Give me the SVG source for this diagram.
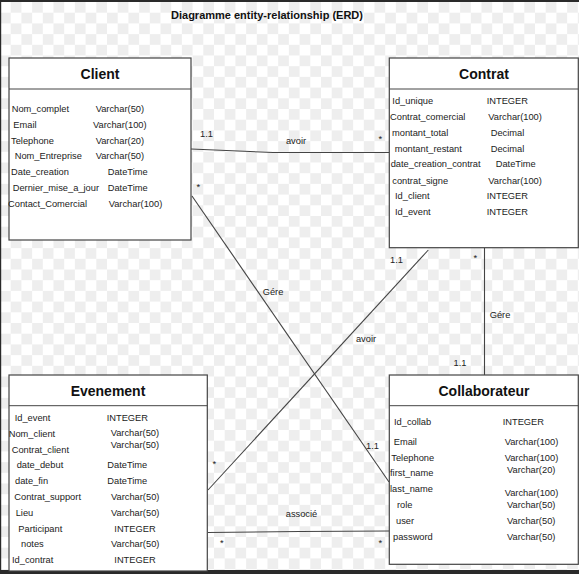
<svg xmlns="http://www.w3.org/2000/svg" width="579" height="574" viewBox="0 0 579 574">
<defs>
<pattern id="chk" x="0" y="2" width="21.4" height="21.4" patternUnits="userSpaceOnUse">
<rect width="21.4" height="21.4" fill="#ffffff"/>
<rect x="10.7" y="0" width="10.7" height="10.7" fill="#eeeeee"/>
<rect x="0" y="10.7" width="10.7" height="10.7" fill="#eeeeee"/>
</pattern>
<style>
.box{fill:#ffffff;stroke:#444;stroke-width:1.2}
.div{stroke:#444;stroke-width:1}
.ttl{font-family:"Liberation Sans",Arial,sans-serif;font-weight:bold;font-size:14px;fill:#111;text-anchor:middle}
.t{font-family:"Liberation Sans",Arial,sans-serif;font-size:9.3px;fill:#222}
.lbl{font-family:"Liberation Sans",Arial,sans-serif;font-size:9.3px;fill:#222}
.con{fill:none;stroke:#444;stroke-width:1.1}
</style>
</defs>
<rect width="579" height="574" fill="url(#chk)"/>
<rect x="0" y="0" width="579" height="2" fill="#2a2a2a"/>
<rect x="0" y="0" width="1.2" height="574" fill="#2a2a2a"/>
<rect x="0" y="570" width="579" height="4" fill="#2a2a2a"/>
<text x="267" y="19" font-family="'Liberation Sans',Arial,sans-serif" font-size="11px" font-weight="bold" fill="#111" text-anchor="middle">Diagramme entity-relationship (ERD)</text>

<g id="connectors">
<polyline class="con" points="191,149 273,152.5 389,152.5"/>
<line class="con" x1="192" y1="196" x2="389" y2="482"/>
<line class="con" x1="428.3" y1="250" x2="208" y2="490"/>
<line class="con" x1="484.5" y1="248" x2="484.5" y2="375"/>
<polyline class="con" points="208,532.5 300,531.5 389,531"/>
<text class="lbl" x="200" y="136.5">1.1</text>
<text class="lbl" x="296" y="144" text-anchor="middle">avoir</text>
<text class="lbl" x="378.5" y="142">*</text>
<text class="lbl" x="196.5" y="190">*</text>
<text class="lbl" x="273" y="294.5" text-anchor="middle">Gére</text>
<text class="lbl" x="372.5" y="448.5" text-anchor="middle">1.1</text>
<text class="lbl" x="366" y="342" text-anchor="middle">avoir</text>
<text class="lbl" x="396.5" y="262.5" text-anchor="middle">1.1</text>
<text class="lbl" x="212.5" y="467">*</text>
<text class="lbl" x="500" y="317.5" text-anchor="middle">Gére</text>
<text class="lbl" x="473.5" y="261">*</text>
<text class="lbl" x="460" y="365.5" text-anchor="middle">1.1</text>
<text class="lbl" x="301.5" y="516.5" text-anchor="middle">associé</text>
<text class="lbl" x="220" y="546">*</text>
<text class="lbl" x="378.5" y="546">*</text>
</g>

<g id="client">
<rect class="box" x="9" y="58" width="182" height="182"/>
<line class="div" x1="9" y1="89" x2="191" y2="89"/>
<text class="ttl" x="100" y="79">Client</text>
<text class="t" x="11.7" y="111.6">Nom_complet</text><text class="t" x="95.7" y="111.6">Varchar(50)</text>
<text class="t" x="13.3" y="128.3">Email</text><text class="t" x="93" y="128.3">Varchar(100)</text>
<text class="t" x="11" y="143.6">Telephone</text><text class="t" x="95.7" y="143.6">Varchar(20)</text>
<text class="t" x="14.7" y="159.3">Nom_Entreprise</text><text class="t" x="95.7" y="159.3">Varchar(50)</text>
<text class="t" x="11" y="175.3">Date_creation</text><text class="t" x="107.7" y="175.3">DateTime</text>
<text class="t" x="12.7" y="191.3">Dernier_mise_a_jour</text><text class="t" x="107.7" y="191.3">DateTime</text>
<text class="t" x="8" y="207.3">Contact_Comercial</text><text class="t" x="108.7" y="207.3">Varchar(100)</text>
</g>

<g id="contrat">
<rect class="box" x="389.3" y="58" width="189" height="189.7"/>
<line class="div" x1="389.3" y1="89" x2="578.3" y2="89"/>
<text class="ttl" x="484" y="79">Contrat</text>
<text class="t" x="392.3" y="104">Id_unique</text><text class="t" x="486.7" y="104">INTEGER</text>
<text class="t" x="390" y="120">Contrat_comercial</text><text class="t" x="488.3" y="120">Varchar(100)</text>
<text class="t" x="392" y="136">montant_total</text><text class="t" x="490.7" y="136">Decimal</text>
<text class="t" x="394.7" y="152">montant_restant</text><text class="t" x="490.7" y="152">Decimal</text>
<text class="t" x="390.7" y="167.3">date_creation_contrat</text><text class="t" x="495.7" y="167.3">DateTime</text>
<text class="t" x="392.3" y="183.6">contrat_signe</text><text class="t" x="488.3" y="183.6">Varchar(100)</text>
<text class="t" x="395" y="199.3">Id_client</text><text class="t" x="486.7" y="199.3">INTEGER</text>
<text class="t" x="395" y="215">Id_event</text><text class="t" x="486.7" y="215">INTEGER</text>
</g>

<g id="evenement">
<rect class="box" x="9" y="375" width="198.3" height="196"/>
<line class="div" x1="9" y1="405.7" x2="207.3" y2="405.7"/>
<text class="ttl" x="108" y="396">Evenement</text>
<text class="t" x="14.7" y="420.6">Id_event</text><text class="t" x="106.7" y="420.6">INTEGER</text>
<text class="t" x="8.7" y="436.6">Nom_client</text><text class="t" x="110.7" y="436.3">Varchar(50)</text>
<text class="t" x="11.7" y="452.6">Contrat_client</text><text class="t" x="110.7" y="448.3">Varchar(50)</text>
<text class="t" x="16.7" y="468.3">date_debut</text><text class="t" x="107.3" y="468.3">DateTime</text>
<text class="t" x="15" y="484.3">date_fin</text><text class="t" x="107.3" y="484.3">DateTime</text>
<text class="t" x="14.3" y="500.3">Contrat_support</text><text class="t" x="111" y="500.3">Varchar(50)</text>
<text class="t" x="15.7" y="516">Lieu</text><text class="t" x="111" y="516">Varchar(50)</text>
<text class="t" x="18.3" y="531.6">Participant</text><text class="t" x="114.3" y="531.6">INTEGER</text>
<text class="t" x="21" y="547.3">notes</text><text class="t" x="111" y="547.3">Varchar(50)</text>
<text class="t" x="12" y="563.3">Id_contrat</text><text class="t" x="114.3" y="563.3">INTEGER</text>
</g>

<g id="collaborateur">
<rect class="box" x="389.3" y="375" width="189" height="189.3"/>
<line class="div" x1="389.3" y1="405.7" x2="578.3" y2="405.7"/>
<text class="ttl" x="484" y="396">Collaborateur</text>
<text class="t" x="394" y="425">Id_collab</text><text class="t" x="502.7" y="425">INTEGER</text>
<text class="t" x="393.7" y="444.6">Email</text><text class="t" x="504.7" y="444.6">Varchar(100)</text>
<text class="t" x="391.3" y="460.6">Telephone</text><text class="t" x="504.7" y="460.6">Varchar(100)</text>
<text class="t" x="390" y="476.3">first_name</text><text class="t" x="507" y="473.3">Varchar(20)</text>
<text class="t" x="390" y="492">last_name</text><text class="t" x="504.7" y="496">Varchar(100)</text>
<text class="t" x="397" y="508.3">role</text><text class="t" x="507" y="508.3">Varchar(50)</text>
<text class="t" x="396" y="524">user</text><text class="t" x="507" y="524">Varchar(50)</text>
<text class="t" x="393" y="539.6">password</text><text class="t" x="507" y="539.6">Varchar(50)</text>
</g>
</svg>
